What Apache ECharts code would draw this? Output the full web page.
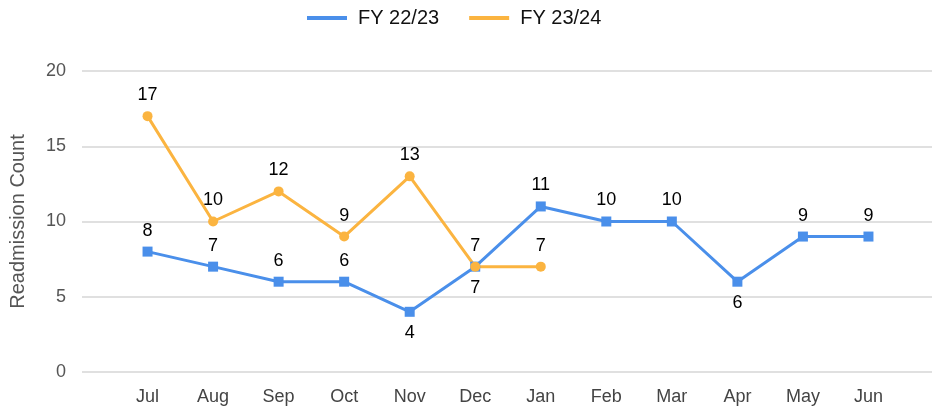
<!DOCTYPE html>
<html>
<head>
<meta charset="utf-8">
<script src="https://cdn.jsdelivr.net/npm/echarts@6/dist/echarts.min.js"></script>
<style>
  html, body { margin: 0; padding: 0; background: #fff; }
  #myChart { width: 932px; height: 408px; }
</style>
</head>
<body>
<div id="myChart"></div>
<script>
var months = ['Jul', 'Aug', 'Sep', 'Oct', 'Nov', 'Dec', 'Jan', 'Feb', 'Mar', 'Apr', 'May', 'Jun'];
var fy2223 = [8, 7, 6, 6, 4, 7, 11, 10, 10, 6, 9, 9];
var fy2324 = [17, 10, 12, 9, 13, 7, 7];
var yTicks = [0, 5, 10, 15, 20];

var fontFamily = '"Liberation Sans", Arial, sans-serif';
// points whose label sits under the marker (blue line)
var belowIdx = [4, 5, 9];

function toPoints(values, below) {
  return values.map(function (v, i) {
    var p = { value: [i, v] };
    if (below && below.indexOf(i) >= 0) {
      p.label = { position: 'bottom' };
    }
    return p;
  });
}

var chart = echarts.init(document.getElementById('myChart'));
chart.setOption({
  animation: false,
  textStyle: { fontFamily: fontFamily },
  legend: {
    top: 3,
    left: 302,
    icon: 'rect',
    itemWidth: 40,
    itemHeight: 4,
    itemGap: 30,
    textStyle: { fontSize: 20, color: '#111', fontFamily: fontFamily, padding: [0, 0, 0, 6] },
    data: ['FY 22/23', 'FY 23/24']
  },
  grid: { left: 82, right: -2, top: 71, bottom: 36, containLabel: false, outerBoundsMode: 'none' },
  xAxis: {
    type: 'value',
    min: -1,
    max: 12,
    interval: 1,
    splitLine: { show: false },
    axisLine: { show: false },
    axisTick: { show: false },
    axisLabel: {
      margin: 16,
      fontSize: 18,
      color: '#444',
      fontFamily: fontFamily,
      formatter: function (v) { return months[v] || ''; }
    }
  },
  yAxis: {
    type: 'value',
    min: yTicks[0],
    max: yTicks[yTicks.length - 1],
    interval: 5,
    name: 'Readmission Count',
    nameLocation: 'middle',
    nameGap: 54,
    nameTextStyle: { fontSize: 20, color: '#555', fontFamily: fontFamily },
    axisLine: { show: false },
    axisTick: { show: false },
    axisLabel: { margin: 16, fontSize: 18, color: '#555', fontFamily: fontFamily },
    splitLine: { lineStyle: { color: '#e0e0e0', width: 2 } }
  },
  series: [
    {
      name: 'FY 22/23',
      type: 'line',
      data: toPoints(fy2223, belowIdx),
      symbol: 'rect',
      symbolSize: 10,
      color: '#4a8fea',
      lineStyle: { width: 3 },
      label: { show: true, position: 'top', distance: 7, fontSize: 18, color: '#000', fontFamily: fontFamily,
        formatter: function (p) { return p.value[1]; } }
    },
    {
      name: 'FY 23/24',
      type: 'line',
      data: toPoints(fy2324),
      symbol: 'circle',
      symbolSize: 10,
      color: '#fbb440',
      lineStyle: { width: 3 },
      label: { show: true, position: 'top', distance: 7, fontSize: 18, color: '#000', fontFamily: fontFamily,
        formatter: function (p) { return p.value[1]; } }
    }
  ]
});
</script>
</body>
</html>
